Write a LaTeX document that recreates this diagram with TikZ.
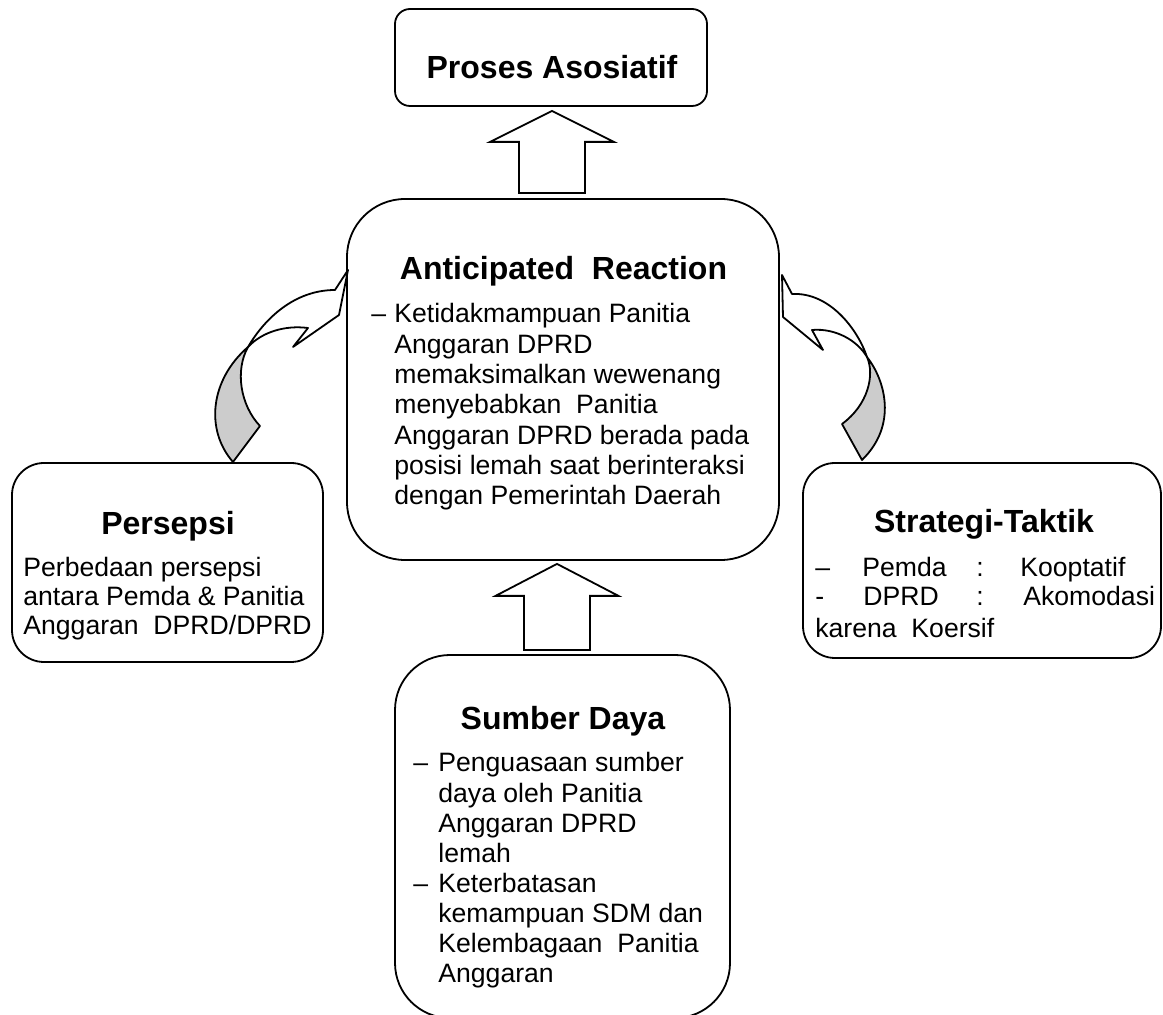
\documentclass[tikz,border=0pt]{standalone}
\usepackage{fontspec}
\setmainfont{Liberation Sans}
\usetikzlibrary{calc}
\begin{document}
\begin{tikzpicture}[x=0.5pt,y=-0.5pt,
  box/.style={draw, line width=0.9pt, rectangle, inner sep=0pt},
  title/.style={anchor=base, font=\fontsize{16}{19}\selectfont\bfseries, inner sep=0pt},
  body/.style={anchor=base west, font=\fontsize{13.3}{15.15}\selectfont, inner sep=0pt},
  blockarrow/.style={draw, fill=white, line width=0.9pt, line join=miter},
  band/.style={draw, line width=0.9pt, line join=round},
]
\fill[white] (0,0) rectangle (1163,1015);
\useasboundingbox (0,0) rectangle (1163,1015);

% boxes
\node[box, rounded corners=7.5pt, minimum width=156pt, minimum height=48.5pt] (pa) at (551,57.5) {};
\node[box, rounded corners=29pt, minimum width=216pt, minimum height=180.5pt] (ar) at (563,379.5) {};
\node[box, rounded corners=27.5pt, minimum width=167.5pt, minimum height=181.5pt] (sd) at (562.5,836.5) {};
\node[box, rounded corners=16pt, minimum width=155.5pt, minimum height=99.5pt] (pe) at (167.5,562.5) {};
\node[box, rounded corners=16pt, minimum width=179pt, minimum height=97.5pt] (st) at (982,560.5) {};

% titles
\node[title] (paT) at (552,79) {Proses Asosiatif};
\node[title] (arT) at (563.5,280) {Anticipated\ \ Reaction};
\node[title] (sdT) at (563,730) {Sumber Daya};
\node[title] (peT) at (168,535) {Persepsi};
\node[title] (stT) at (984,533) {Strategi-Taktik};

% body texts
\node[body] (arB) at (394,323) {\vtop{\baselineskip=15.15pt
  \hbox{\llap{\makebox[11.5pt][l]{–}}Ketidakmampuan Panitia}
  \hbox{Anggaran DPRD}
  \hbox{memaksimalkan wewenang}
  \hbox{menyebabkan\ \ Panitia}
  \hbox{Anggaran DPRD berada pada}
  \hbox{posisi lemah saat berinteraksi}
  \hbox{dengan Pemerintah Daerah}}};

\node[body] (sdB) at (438,772) {\vtop{\baselineskip=15.07pt
  \hbox{\llap{\makebox[12.5pt][l]{–}}Penguasaan sumber}
  \hbox{daya oleh Panitia}
  \hbox{Anggaran DPRD}
  \hbox{lemah}
  \hbox{\llap{\makebox[12.5pt][l]{–}}Keterbatasan}
  \hbox{kemampuan SDM dan}
  \hbox{Kelembagaan\ \ Panitia}
  \hbox{Anggaran}}};

\node[body] (peB) at (23,577) {\vtop{\baselineskip=14.4pt
  \hbox{Perbedaan persepsi}
  \hbox{antara Pemda \& Panitia}
  \hbox{Anggaran\ \ DPRD/DPRD}}};

\node[body] (st1a) at (815,577) {–};
\node[body] (st1b) at (862,577) {Pemda};
\node[body] (st1c) at (976,577) {:};
\node[body] (st1d) at (1020,577) {Kooptatif};
\node[body] (st2a) at (815,606) {-};
\node[body] (st2b) at (863,606) {DPRD};
\node[body] (st2c) at (976,606) {:};
\node[body] (st2d) at (1023,606) {Akomodasi};
\node[body] (st3) at (815,638) {karena\ \ Koersif};

% straight block arrows
\draw[blockarrow] let \p1=($(pa.south)+(1,4)$), \p2=(ar.north) in
  (\x1,\y1) -- (\x1+31pt,\y1-15.5pt) -- (\x1+16.5pt,\y1-15.5pt) -- (\x1+16.5pt,\y2+2.5pt)
  -- (\x1-16.5pt,\y2+2.5pt) -- (\x1-16.5pt,\y1-15.5pt) -- (\x1-31pt,\y1-15.5pt) -- cycle;
\draw[blockarrow] let \p1=($(ar.south)+(-6,3)$), \p2=(sd.north) in
  (\x1,\y1) -- (\x1+30.75pt,\y1-16pt) -- (\x1+16.5pt,\y1-16pt) -- (\x1+16.5pt,\y2+2pt)
  -- (\x1-16.5pt,\y2+2pt) -- (\x1-16.5pt,\y1-16pt) -- (\x1-30.75pt,\y1-16pt) -- cycle;

% curved block arrow from Persepsi
\draw[band, fill=black!20] (233,462) .. controls (205,430) and (210,380) .. (248,347)
  .. controls (235,370) and (240,405) .. (260,426) -- cycle;
\draw[band, fill=white] (248,347) .. controls (265,318) and (295,290) .. (335,290)
  -- (348,270) -- (339,315) -- (293,347) -- (308,328)
  .. controls (285,325) and (262,332) .. (248,347) -- cycle;

% curved block arrow from Strategi-Taktik
\draw[band, fill=black!20] (867,357) .. controls (885,380) and (898,425) .. (862,460)
  -- (842,424) .. controls (868,405) and (875,375) .. (867,357) -- cycle;
\draw[band, fill=white] (782,275) -- (792,294) .. controls (830,292) and (858,330) .. (867,357)
  .. controls (857,340) and (835,328) .. (812,330) -- (823,350) -- (783,317) -- cycle;
\end{tikzpicture}
\end{document}
